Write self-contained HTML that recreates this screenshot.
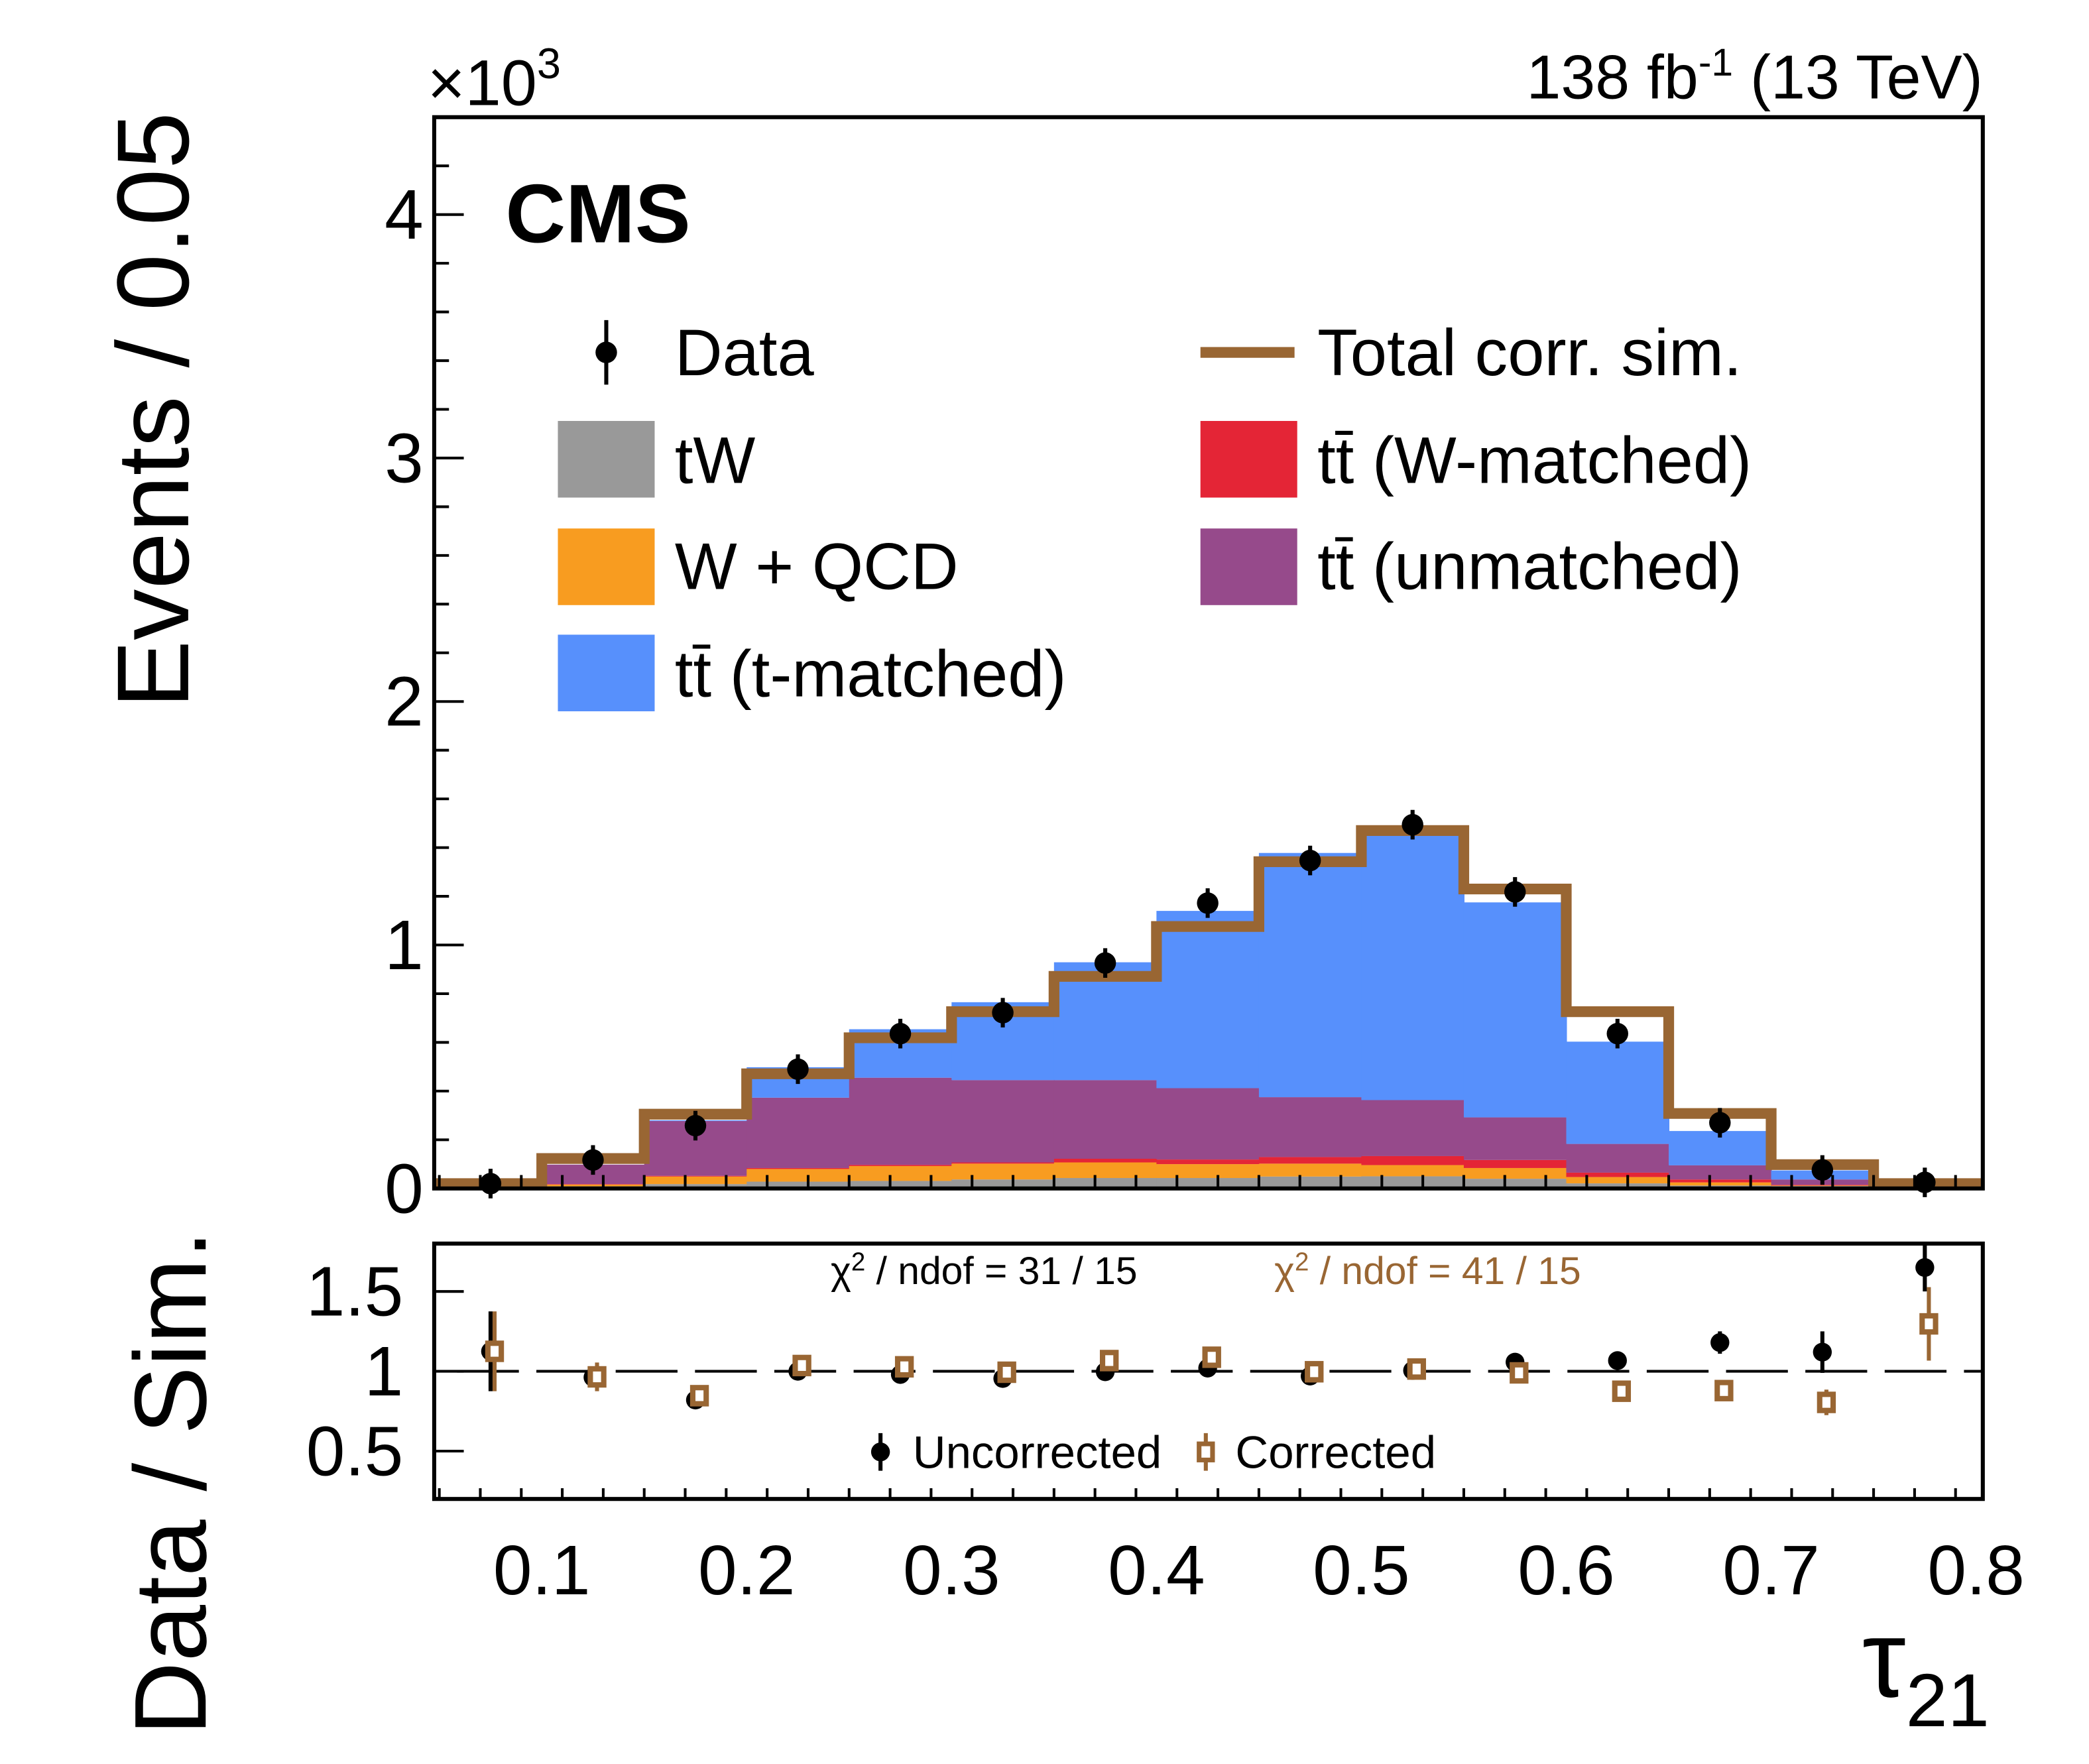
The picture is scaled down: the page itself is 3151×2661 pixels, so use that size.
<!DOCTYPE html>
<html><head><meta charset="utf-8"><style>
html,body{margin:0;padding:0;background:#fff;}
svg{display:block;font-family:"Liberation Sans",sans-serif;}
</style></head><body>
<svg id="chart" width="3151" height="2661" viewBox="0 0 1554 1312" xmlns="http://www.w3.org/2000/svg">
<g id="mainG"></g>
<g id="ratioG"></g>
<g id="textG">
  <text x="318" y="78" font-size="48">×10<tspan dy="-20" font-size="32">3</tspan></text>
  <text x="1475" y="73" font-size="46" text-anchor="end">138 fb<tspan dy="-17" font-size="29">-1</tspan><tspan dy="17"> (13 TeV)</tspan></text>
  <text x="376" y="180" font-size="62" font-weight="bold">CMS</text>
  <text transform="translate(140,305) rotate(-90)" font-size="76" text-anchor="middle">Events / 0.05</text>
  <text transform="translate(153,1103) rotate(-90)" font-size="76" text-anchor="middle">Data / Sim.</text>
  <text x="1480" y="1262" font-size="82" text-anchor="end">τ<tspan dy="22" font-size="56">21</tspan></text>
  <text x="732" y="955" font-size="29" text-anchor="middle">χ<tspan dy="-10" font-size="19">2</tspan><tspan dy="10"> / ndof = 31 / 15</tspan></text>
  <text x="1062" y="955" font-size="29" fill="#996633" text-anchor="middle">χ<tspan dy="-10" font-size="19">2</tspan><tspan dy="10"> / ndof = 41 / 15</tspan></text>
</g>
<g id="legendG">
  <g>
    <line x1="451" y1="238" x2="451" y2="286" stroke="#000" stroke-width="3"/>
    <circle cx="451" cy="262" r="8" fill="#000"/>
    <text x="502" y="279" font-size="49">Data</text>
  </g>
  <g>
    <line x1="893" y1="262" x2="963" y2="262" stroke="#996633" stroke-width="8"/>
    <text x="980" y="279" font-size="49">Total corr. sim.</text>
  </g>
  <g>
    <rect x="415" y="313" width="72" height="57" fill="#999999"/>
    <text x="502" y="359" font-size="49">tW</text>
  </g>
  <g>
    <rect x="415" y="393" width="72" height="57" fill="#f89c20"/>
    <text x="502" y="438" font-size="49">W + QCD</text>
  </g>
  <g>
    <rect x="415" y="472" width="72" height="57" fill="#5790fc"/>
    <text x="502" y="518" font-size="49">tt̄ (t-matched)</text>
  </g>
  <g>
    <rect x="893" y="313" width="72" height="57" fill="#e42536"/>
    <text x="980" y="359" font-size="49">tt̄ (W-matched)</text>
  </g>
  <g>
    <rect x="893" y="393" width="72" height="57" fill="#964a8b"/>
    <text x="980" y="438" font-size="49">tt̄ (unmatched)</text>
  </g>
  <g>
    <line x1="655" y1="1066" x2="655" y2="1094" stroke="#000" stroke-width="3"/>
    <circle cx="655" cy="1080" r="7" fill="#000"/>
    <text x="679" y="1092" font-size="34">Uncorrected</text>
  </g>
  <g>
    <line x1="897" y1="1066" x2="897" y2="1094" stroke="#996633" stroke-width="3"/>
    <rect x="892" y="1074" width="10" height="12" fill="#fff" stroke="#996633" stroke-width="3.5"/>
    <text x="919" y="1092" font-size="34">Corrected</text>
  </g>
</g>
</svg>
<script>
// ---- data ----
const binLow = [0.05,0.10,0.15,0.20,0.25,0.30,0.35,0.40,0.45,0.50,0.55,0.60,0.65,0.70,0.75];
const binWidth = 0.05;
const tW       = [0.003,0.009,0.018,0.028,0.031,0.037,0.043,0.043,0.049,0.050,0.040,0.021,0.012,0.010,0.002];
const wQCD     = [0.001,0.007,0.031,0.052,0.061,0.065,0.064,0.057,0.053,0.046,0.044,0.026,0.013,0.002,0.001];
const ttWm     = [0.000,0.002,0.003,0.004,0.005,0.005,0.015,0.019,0.027,0.037,0.033,0.018,0.012,0.003,0.000];
const ttUnm    = [0.001,0.080,0.225,0.289,0.358,0.338,0.323,0.293,0.246,0.230,0.175,0.118,0.058,0.022,0.000];
const ttTm     = [0.005,0.000,0.003,0.125,0.199,0.320,0.484,0.728,1.003,1.085,0.883,0.420,0.141,0.037,0.002];
const totalCorr= [0.020,0.123,0.305,0.471,0.619,0.726,0.871,1.076,1.342,1.470,1.230,0.726,0.308,0.098,0.020];
const dataVals = [0.020,0.117,0.258,0.490,0.636,0.722,0.926,1.172,1.347,1.494,1.218,0.636,0.270,0.076,0.025];
const ratioUnc = [1.125,0.962,0.820,1.000,0.980,0.955,0.997,1.020,0.970,1.005,1.057,1.067,1.180,1.120,1.650];
const ratioUncErr = [0.25,0.03,0.03,0.02,0.03,0.03,0.03,0.03,0.03,0.03,0.03,0.04,0.07,0.13,0.15];
const ratioCor = [1.125,0.965,0.847,1.036,1.028,0.994,1.067,1.088,0.997,1.014,0.990,0.875,0.879,0.805,1.297];
const ratioCorErr = [0.25,0.09,0.06,0.06,0.06,0.05,0.06,0.06,0.06,0.06,0.06,0.06,0.06,0.08,0.23];
const mainYTicks = ["0","1","2","3","4"];
const ratioYTicks = ["0.5","1","1.5"];
const xTicks = ["0.1","0.2","0.3","0.4","0.5","0.6","0.7","0.8"];

// ---- axes ----
const L=323,R=1475,T=87,B=884,RT=925,RB=1115;
const xMin=0.0475,xMax=0.8033;
const X=v=>L+(v-xMin)/(xMax-xMin)*(R-L);
const Y=v=>B-v/4.4*(B-T);
const RY=v=>RB-(v-0.2)/1.6*(RB-RT);
const NS="http://www.w3.org/2000/svg";
function mk(tag,attrs,parent){const e=document.createElementNS(NS,tag);for(const k in attrs)e.setAttribute(k,attrs[k]);parent.appendChild(e);return e;}
const mainG=document.getElementById('mainG'), ratioG=document.getElementById('ratioG');

const comps=[[tW,'#999999','tw'],[wQCD,'#f89c20','wqcd'],[ttWm,'#e42536','tt-wmatched'],[ttUnm,'#964a8b','tt-unmatched'],[ttTm,'#5790fc','tt-tmatched']];
for(let i=0;i<binLow.length;i++){
  let base=0;
  for(const [arr,col,nm] of comps){
    const top=base+arr[i];
    const x0=Math.max(X(binLow[i]),L), x1=X(binLow[i]+binWidth);
    const r=mk('rect',{x:x0,y:Y(top),width:x1-x0+0.5,height:Math.max(0,Y(base)-Y(top)),fill:col},mainG);
    
    
    base=top;
  }
}
let d='';
for(let i=0;i<binLow.length;i++){
  const x0=i===0?L:X(binLow[i]), x1=i===binLow.length-1?R:X(binLow[i]+binWidth);
  d+=(i===0?'M':'L')+x0+','+Y(totalCorr[i])+' L'+x1+','+Y(totalCorr[i])+' ';
}
const tl=mk('path',{d:d,fill:'none',stroke:'#996633','stroke-width':8},mainG);


for(let i=0;i<binLow.length;i++){
  const cx=X(binLow[i]+binWidth/2);
  const ln=mk('line',{x1:cx,x2:cx,y1:Y(dataVals[i])-11,y2:Y(dataVals[i])+11,stroke:'#000','stroke-width':3},mainG);
  
  
  const c=mk('circle',{cx:cx,cy:Y(dataVals[i]),r:8,fill:'#000'},mainG);
  
  
}
const f1=mk('rect',{x:L,y:T,width:R-L,height:B-T,fill:'none',stroke:'#000','stroke-width':3},mainG);


const f2=mk('rect',{x:L,y:RT,width:R-L,height:RB-RT,fill:'none',stroke:'#000','stroke-width':3},ratioG);



for(let k=0;k<=38;k++){
  const v=0.05+k*0.02; if(v>xMax)break;
  const major=Math.abs((v*10)-Math.round(v*10))<1e-6;
  const x=X(v);
  mk('line',{x1:x,x2:x,y1:B,y2:B-(major?20:10),stroke:'#000','stroke-width':2},mainG);
  mk('line',{x1:x,x2:x,y1:RB,y2:RB-(major?16:8),stroke:'#000','stroke-width':2},ratioG);
}
for(let k=0;k<xTicks.length;k++){
  const v=parseFloat(xTicks[k]);
  const t=mk('text',{x:X(v),y:1186,'font-size':52,'text-anchor':'middle'},ratioG);
  t.textContent=xTicks[k];
  
  
}
for(let k=0;k<=22;k++){
  const v=k*0.2, y=Y(v), major=k%5===0;
  mk('line',{x1:L,x2:L+(major?22:11),y1:y,y2:y,stroke:'#000','stroke-width':2},mainG);
}
for(const s of mainYTicks){
  const t=mk('text',{x:315,y:Y(parseFloat(s))+18,'font-size':52,'text-anchor':'end'},mainG);
  t.textContent=s;
  
  
}
for(const s of ratioYTicks){
  const y=RY(parseFloat(s));
  mk('line',{x1:L,x2:L+22,y1:y,y2:y,stroke:'#000','stroke-width':2},ratioG);
  const t=mk('text',{x:300,y:y+18,'font-size':52,'text-anchor':'end'},ratioG);
  t.textContent=s;
  
  
}
const ul=mk('line',{x1:340,x2:R,y1:RY(1),y2:RY(1),stroke:'#000','stroke-width':2,'stroke-dasharray':'46,13'},ratioG);


for(let i=0;i<binLow.length;i++){
  const cx=X(binLow[i]+binWidth/2);
  const e1=mk('line',{x1:cx,x2:cx,y1:RY(ratioUnc[i]+ratioUncErr[i]),y2:RY(ratioUnc[i]-ratioUncErr[i]),stroke:'#000','stroke-width':3},ratioG);
  
  
  const c=mk('circle',{cx:cx,cy:RY(ratioUnc[i]),r:7,fill:'#000'},ratioG);
  
  
  const e2=mk('line',{x1:cx+3,x2:cx+3,y1:RY(ratioCor[i]+ratioCorErr[i]),y2:RY(ratioCor[i]-ratioCorErr[i]),stroke:'#996633','stroke-width':3},ratioG);
  
  
  const s=mk('rect',{x:cx-2,y:RY(ratioCor[i])-6,width:10,height:12,fill:'#fff',stroke:'#996633','stroke-width':4},ratioG);
  
  
}
</script>
</body></html>
